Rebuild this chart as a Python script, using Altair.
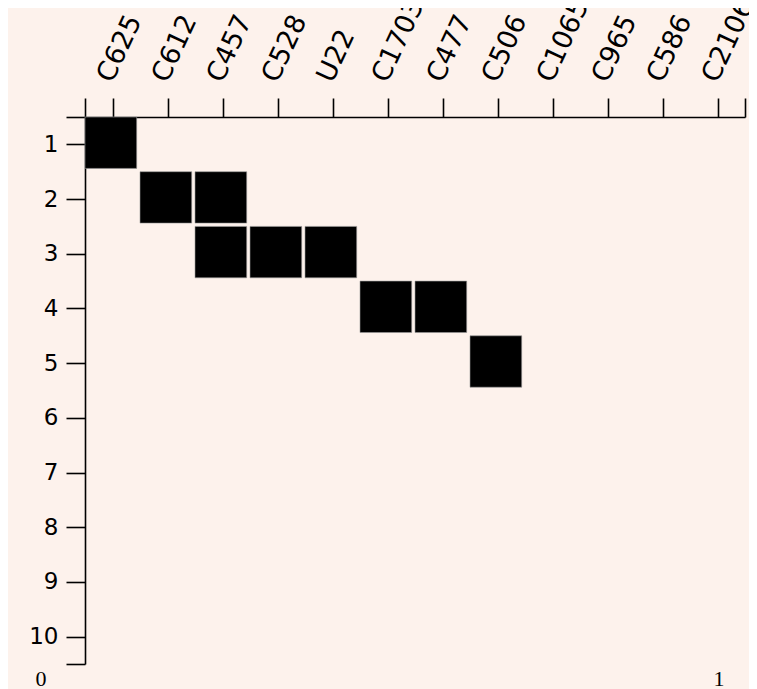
import altair as alt
import pandas as pd

columns = ["C625", "C612", "C457", "C528", "U22", "C1703", "C477", "C506",
           "C1065", "C965", "C586", "C2106"]
rows = list(range(1, 11))
cell_rows = [1, 2, 2, 3, 3, 3, 4, 4, 5]
cell_cols = ["C625", "C612", "C457", "C457", "C528", "U22", "C1703", "C477", "C506"]
corner_left = "0"
corner_right = "1"

df = pd.DataFrame({
    "row": cell_rows,
    "col": [columns.index(c) for c in cell_cols],
    "name": cell_cols,
})

n = len(columns)
x_scale = alt.Scale(domain=[-0.5, n - 0.5], nice=False, zero=False)
y_scale = alt.Scale(domain=[0.5, len(rows) + 0.5], nice=False, zero=False, reverse=True)

label_expr = "datum.value >= 0 && datum.value < %d && datum.value == floor(datum.value) ? %s[datum.value] : ''" % (
    n, "[" + ",".join("'%s'" % c for c in columns) + "]")
ylabel_expr = "datum.value == floor(datum.value) ? datum.value : ''"

x_axis = alt.Axis(
    orient="top", values=[-0.5] + list(range(n)) + [n - 0.5],
    labelExpr=label_expr, labelAngle=295, labelAlign="left", labelBaseline="middle",
    labelFont="DejaVu Sans", labelFontSize=27, labelColor="#000000",
    labelPadding=18, labelOffset=-8,
    tickSize=19, tickColor="#000000", tickWidth=1.6,
    domainColor="#000000", domainWidth=1.6, grid=False, title=None,
    labelOverlap=False, labelBound=False, labelFlush=False,
)
y_axis = alt.Axis(
    orient="left", values=[0.5] + rows + [len(rows) + 0.5],
    labelExpr=ylabel_expr,
    labelFont="DejaVu Sans", labelFontSize=23, labelColor="#000000",
    labelPadding=8,
    tickSize=19, tickColor="#000000", tickWidth=1.6,
    domainColor="#000000", domainWidth=1.6, grid=False, title=None,
    labelOverlap=False, labelFlush=False,
)

base = alt.Chart(df)

cells = base.mark_rect(color="#000000", stroke="#9a9a9a", strokeWidth=0.6).transform_calculate(
    x0="datum.col - 0.5", x1="datum.col + 0.44",
    y0="datum.row - 0.5", y1="datum.row + 0.44",
).encode(
    x=alt.X("x0:Q", scale=x_scale, axis=x_axis),
    x2="x1:Q",
    y=alt.Y("y0:Q", scale=y_scale, axis=y_axis),
    y2="y1:Q",
)

t0 = alt.Chart(pd.DataFrame({"t": [corner_left]})).mark_text(
    font="Liberation Serif", fontSize=22, color="#000000", align="center", baseline="alphabetic"
).encode(text="t:N", x=alt.value(-44), y=alt.value(569))

t1 = alt.Chart(pd.DataFrame({"t": [corner_right]})).mark_text(
    font="Liberation Serif", fontSize=22, color="#000000", align="center", baseline="alphabetic"
).encode(text="t:N", x=alt.value(634), y=alt.value(569))

chart = alt.layer(cells, t0, t1).properties(
    width=660, height=547,
    background="#fdf2ec",
    padding={"left": 77, "top": 109, "right": 4, "bottom": 25},
    autosize=alt.AutoSizeParams(type="none"),
).configure_view(stroke=None)

chart.save("out.html", embed_options={"renderer": "svg", "actions": False})
